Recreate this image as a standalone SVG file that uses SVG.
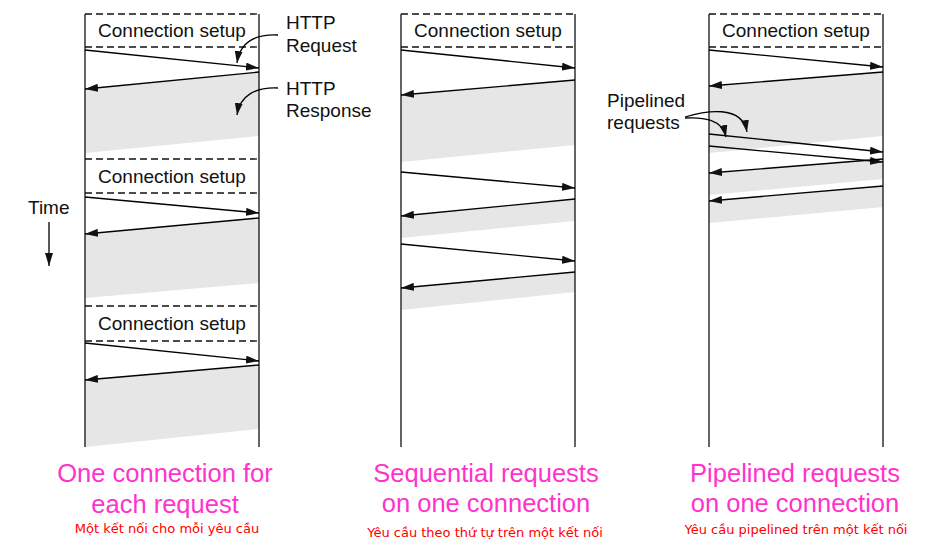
<svg xmlns="http://www.w3.org/2000/svg" width="927" height="551" viewBox="0 0 927 551">
<style>
.bg{fill:#ffffff}
.life{stroke:#111;stroke-width:1.3;fill:none}
.dash{stroke:#111;stroke-width:1.3;stroke-dasharray:7,4;fill:none}
.shade{fill:#e6e6e6;stroke:none}
.msg{stroke:#000;stroke-width:1.3;fill:none;marker-end:url(#ah)}
.curve{stroke:#000;stroke-width:1.3;fill:none;marker-end:url(#ah2)}
.lbl{font-family:"Liberation Sans",Arial,sans-serif;font-size:19px;fill:#111}
.title{font-family:"Liberation Sans",Arial,sans-serif;font-size:25.5px;fill:#ff33cc;text-anchor:middle}
.vi{font-family:"DejaVu Sans","Noto Sans",sans-serif;font-size:13px;fill:#ff0000;text-anchor:middle}
</style>
<defs>
<marker id="ah" markerUnits="userSpaceOnUse" markerWidth="13" markerHeight="8" refX="13" refY="4" orient="auto">
<path d="M0,0 L13,4 L0,8 z" fill="#111"/>
</marker>
<marker id="ah2" markerUnits="userSpaceOnUse" markerWidth="12" markerHeight="8" refX="12" refY="4" orient="auto">
<path d="M0,0 L12,4 L0,8 z" fill="#111"/>
</marker>
</defs>
<rect class="bg" x="0" y="0" width="927" height="551"/>

<g id="panel-one-connection">
<polygon class="shade" points="85,89 259,72 259,136 85,153"/>
<polygon class="shade" points="85,234 259,218 259,283 85,298"/>
<polygon class="shade" points="85,380 259,365 259,429 85,447"/>
<line class="life" x1="85" y1="14" x2="85" y2="447"/>
<line class="life" x1="259" y1="14" x2="259" y2="447"/>
<line class="dash" x1="85" y1="14" x2="259" y2="14"/>
<line class="dash" x1="85" y1="47" x2="259" y2="47"/>
<line class="dash" x1="85" y1="159" x2="259" y2="159"/>
<line class="dash" x1="85" y1="193" x2="259" y2="193"/>
<line class="dash" x1="85" y1="306" x2="259" y2="306"/>
<line class="dash" x1="85" y1="341" x2="259" y2="341"/>
<text class="lbl" x="172" y="37" text-anchor="middle">Connection setup</text>
<text class="lbl" x="172" y="183" text-anchor="middle">Connection setup</text>
<text class="lbl" x="172" y="330" text-anchor="middle">Connection setup</text>
<text class="title" x="165" y="482">One connection for</text>
<text class="title" x="165" y="513">each request</text>
<text class="vi" x="167" y="533">Một kết nối cho mỗi yêu cầu</text>
</g>

<g id="panel-sequential">
<polygon class="shade" points="401,95 575,80 575,145 401,162"/>
<polygon class="shade" points="401,216 575,199 575,221 401,238"/>
<polygon class="shade" points="401,288 575,272 575,292 401,310"/>
<line class="life" x1="401" y1="14" x2="401" y2="447"/>
<line class="life" x1="575" y1="14" x2="575" y2="447"/>
<line class="dash" x1="401" y1="14" x2="575" y2="14"/>
<line class="dash" x1="401" y1="47" x2="575" y2="47"/>
<text class="lbl" x="488" y="37" text-anchor="middle">Connection setup</text>
<text class="title" x="486" y="482">Sequential requests</text>
<text class="title" x="486" y="512">on one connection</text>
<text class="vi" x="485" y="537">Yêu cầu theo thứ tự trên một kết nối</text>
</g>

<g id="panel-pipelined">
<polygon class="shade" points="709,86 883,72 883,136 709,153"/>
<polygon class="shade" points="709,173 883,159 883,179 709,195"/>
<polygon class="shade" points="709,201 883,186 883,207 709,223"/>
<line class="life" x1="709" y1="14" x2="709" y2="447"/>
<line class="life" x1="883" y1="14" x2="883" y2="447"/>
<line class="dash" x1="709" y1="14" x2="883" y2="14"/>
<line class="dash" x1="709" y1="47" x2="883" y2="47"/>
<text class="lbl" x="796" y="37" text-anchor="middle">Connection setup</text>
<text class="title" x="795" y="482">Pipelined requests</text>
<text class="title" x="795" y="512">on one connection</text>
<text class="vi" x="796" y="534">Yêu cầu pipelined trên một kết nối</text>
</g>

<g id="labels">
<text class="lbl" x="286" y="29">HTTP</text>
<text class="lbl" x="286" y="52">Request</text>
<text class="lbl" x="286" y="95">HTTP</text>
<text class="lbl" x="286" y="117">Response</text>
<text class="lbl" x="607" y="107">Pipelined</text>
<text class="lbl" x="607" y="129">requests</text>
<text class="lbl" x="28" y="214">Time</text>
</g>

<g id="connectors">
<line class="msg" x1="85" y1="50" x2="259" y2="68"/>
<line class="msg" x1="259" y1="72" x2="85" y2="89"/>
<line class="msg" x1="85" y1="197" x2="259" y2="213"/>
<line class="msg" x1="259" y1="218" x2="85" y2="234"/>
<line class="msg" x1="85" y1="343" x2="259" y2="361"/>
<line class="msg" x1="259" y1="365" x2="85" y2="380"/>

<line class="msg" x1="401" y1="50" x2="575" y2="68"/>
<line class="msg" x1="575" y1="80" x2="401" y2="95"/>
<line class="msg" x1="401" y1="172" x2="575" y2="188"/>
<line class="msg" x1="575" y1="199" x2="401" y2="216"/>
<line class="msg" x1="401" y1="244" x2="575" y2="261"/>
<line class="msg" x1="575" y1="272" x2="401" y2="288"/>

<line class="msg" x1="709" y1="50" x2="883" y2="67"/>
<line class="msg" x1="883" y1="72" x2="709" y2="86"/>
<line class="msg" x1="709" y1="134" x2="883" y2="152"/>
<line class="msg" x1="709" y1="146" x2="883" y2="162"/>
<line class="msg" x1="883" y1="159" x2="709" y2="173"/>
<line class="msg" x1="883" y1="186" x2="709" y2="201"/>

<path class="curve" d="M278,35 C256,34 240,42 237,63"/>
<path class="curve" d="M278,88 C256,87 240,95 237,115"/>
<path class="curve" d="M685,117 C705,111 742,104 747,132"/>
<path class="curve" d="M685,118 C703,117 722,119 726,137"/>
<line class="msg" x1="49" y1="222" x2="49" y2="266"/>
</g>
</svg>
